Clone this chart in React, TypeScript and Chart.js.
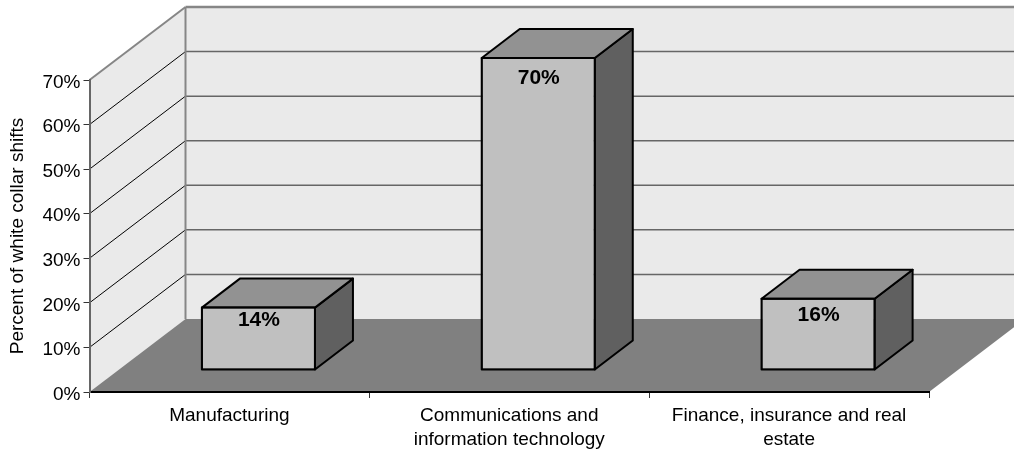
import React, { useEffect, useRef } from "react";
import { Chart, registerables } from "chart.js";

Chart.register(...registerables);

const categories = [
  "Manufacturing",
  ["Communications and", "information technology"],
  ["Finance, insurance and real", "estate"],
];
const shiftPercents = [14, 70, 16];
const valueLabels = ["14%", "70%", "16%"];
const axisTitle = "Percent of white collar shifts";

const FONT = '"Liberation Sans", Arial, sans-serif';
const DEPTH_X = 96;
const DEPTH_Y = 73;
const BAR_DX = 29;
const BAR_DY = 22;
const BAR_DEPTH_X = 38;
const BAR_DEPTH_Y = 29;
const LABEL_OFFSETS = [12.5, 20, 16.5];

function poly(ctx: CanvasRenderingContext2D, pts: number[][], fill?: string, stroke?: string, lw = 1) {
  ctx.beginPath();
  pts.forEach((p, i) => (i ? ctx.lineTo(p[0], p[1]) : ctx.moveTo(p[0], p[1])));
  ctx.closePath();
  if (fill) {
    ctx.fillStyle = fill;
    ctx.fill();
  }
  if (stroke) {
    ctx.strokeStyle = stroke;
    ctx.lineWidth = lw;
    ctx.lineJoin = "round";
    ctx.stroke();
  }
}

function seg(ctx: CanvasRenderingContext2D, a: number[], b: number[], color: string, lw: number) {
  ctx.beginPath();
  ctx.moveTo(a[0], a[1]);
  ctx.lineTo(b[0], b[1]);
  ctx.strokeStyle = color;
  ctx.lineWidth = lw;
  ctx.stroke();
}

const box3d = {
  id: "box3d",
  beforeDraw(chart: any) {
    const { ctx, scales } = chart;
    const { x, y } = scales;
    const L = x.left;
    const R = x.right;
    const y0 = y.getPixelForValue(0);
    const yMax = y.getPixelForValue(70);
    const far = chart.width + 20;
    ctx.save();
    poly(ctx, [[L, yMax], [L + DEPTH_X, yMax - DEPTH_Y], [L + DEPTH_X, y0 - DEPTH_Y], [L, y0]], "#EAEAEA");
    poly(ctx, [[L + DEPTH_X, yMax - DEPTH_Y], [far, yMax - DEPTH_Y], [far, y0 - DEPTH_Y], [L + DEPTH_X, y0 - DEPTH_Y]], "#EAEAEA");
    poly(ctx, [[L, y0], [L + DEPTH_X, y0 - DEPTH_Y], [R + DEPTH_X, y0 - DEPTH_Y], [R, y0]], "#808080");
    y.ticks.forEach((t: any) => {
      if (t.value === 0) return;
      const py = y.getPixelForValue(t.value);
      const top = t.value === 70;
      seg(ctx, [L, py], [L + DEPTH_X, py - DEPTH_Y], top ? "#868686" : "#000000", top ? 2 : 1);
      seg(ctx, [L + DEPTH_X, py - DEPTH_Y], [far, py - DEPTH_Y], top ? "#868686" : "#666666", top ? 2.5 : 1.5);
    });
    seg(ctx, [L + DEPTH_X, yMax - DEPTH_Y], [L + DEPTH_X, y0 - DEPTH_Y], "#868686", 2);
    ctx.restore();
  },
  beforeDatasetDraw(chart: any) {
    const { ctx } = chart;
    ctx.save();
    ctx.translate(BAR_DX, -BAR_DY);
    chart.getDatasetMeta(0).data.forEach((bar: any) => {
      const l = bar.x - bar.width / 2;
      const r = bar.x + bar.width / 2;
      const t = bar.y;
      const b = bar.base;
      poly(ctx, [[r, t], [r + BAR_DEPTH_X, t - BAR_DEPTH_Y], [r + BAR_DEPTH_X, b - BAR_DEPTH_Y], [r, b]], "#606060", "#000", 2);
      poly(ctx, [[l, t], [l + BAR_DEPTH_X, t - BAR_DEPTH_Y], [r + BAR_DEPTH_X, t - BAR_DEPTH_Y], [r, t]], "#929292", "#000", 2);
    });
  },
  afterDatasetDraw(chart: any) {
    const { ctx } = chart;
    chart.getDatasetMeta(0).data.forEach((bar: any) => {
      const l = bar.x - bar.width / 2;
      ctx.strokeStyle = "#000";
      ctx.lineWidth = 2;
      ctx.strokeRect(l, bar.y, bar.width, bar.base - bar.y);
    });
    ctx.restore();
    ctx.save();
    ctx.fillStyle = "#000";
    ctx.font = `bold 21px ${FONT}`;
    ctx.textAlign = "center";
    ctx.textBaseline = "middle";
    chart.getDatasetMeta(0).data.forEach((bar: any, i: number) => {
      ctx.fillText(valueLabels[i], bar.x + BAR_DX + 0.5, bar.y - BAR_DY + LABEL_OFFSETS[i]);
    });
    ctx.restore();
  },
};

export default function App() {
  const ref = useRef<HTMLCanvasElement>(null);
  useEffect(() => {
    const chart = new Chart(ref.current as HTMLCanvasElement, {
      type: "bar",
      data: {
        labels: categories as any,
        datasets: [
          {
            data: shiftPercents,
            backgroundColor: "#C0C0C0",
            borderColor: "#000000",
            borderWidth: 1,
            borderSkipped: false,
            barPercentage: 0.404,
            categoryPercentage: 1,
            clip: false,
          } as any,
        ],
      },
      options: {
        responsive: false,
        animation: false,
        layout: { padding: { top: 80, right: 85, left: 0, bottom: 0 } },
        plugins: { legend: { display: false }, tooltip: { enabled: false } },
        scales: {
          x: {
            afterFit: (s: any) => {
              s.height = 58;
            },
            grid: { drawOnChartArea: false, drawTicks: true, tickLength: 6, color: "#333333", lineWidth: 1 },
            border: { display: true, color: "#000000", width: 2 },
            ticks: {
              maxRotation: 0,
              minRotation: 0,
              autoSkip: false,
              color: "#000000",
              padding: 6,
              font: { family: FONT, size: 19, lineHeight: 1.26 },
            },
          },
          y: {
            min: 0,
            max: 70,
            afterFit: (s: any) => {
              s.width = 89.5;
            },
            grid: { drawOnChartArea: false, drawTicks: true, tickLength: 6, color: "#333333", lineWidth: 1 },
            border: { display: true, color: "#666666", width: 2 },
            title: {
              display: true,
              text: axisTitle,
              color: "#000000",
              font: { family: FONT, size: 19 },
              padding: { top: 6, bottom: 0 },
            },
            ticks: {
              stepSize: 10,
              color: "#000000",
              padding: 3,
              labelOffset: 2.5,
              font: { family: FONT, size: 19 },
              callback: (v: any) => `${v}%`,
            },
          },
        },
      },
      plugins: [box3d],
    } as any);
    return () => chart.destroy();
  }, []);
  return (
    <div style={{ position: "fixed", left: 0, top: 0, width: 1014, height: 450, background: "#fff" }}>
      <canvas ref={ref} width={1014} height={450} style={{ display: "block" }} />
    </div>
  );
}
